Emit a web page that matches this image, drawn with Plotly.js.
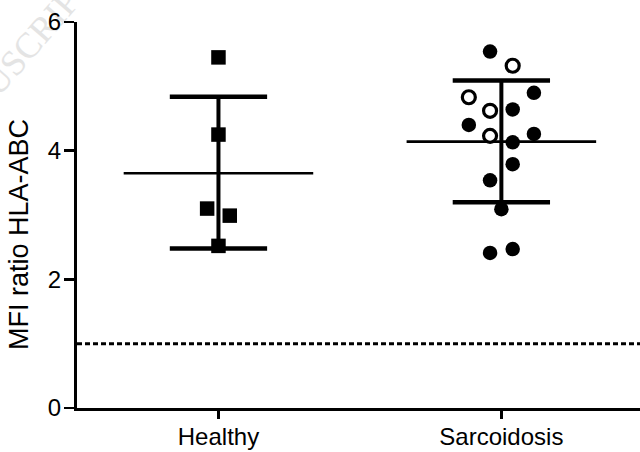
<!DOCTYPE html>
<html>
<head>
<meta charset="utf-8">
<script src="https://cdn.plot.ly/plotly-3.0.1.min.js"></script>
<style>html,body{margin:0;padding:0;background:#fff;}#chart{width:640px;height:452px;}</style>
</head>
<body>
<div id="chart"></div>
<script>
// ---- data ----
const categories = ['Healthy', 'Sarcoidosis'];
const catPos = [0, 1];

const healthyValues = [5.45, 4.25, 3.10, 2.99, 2.52];
const healthyJitter = [0, 0, -0.04, 0.04, 0];

const sarcFilledValues = [5.54, 4.90, 4.64, 4.40, 4.26, 4.13, 3.79, 3.54, 3.09, 2.41, 2.47];
const sarcFilledJitter = [-0.04, 0.115, 0.04, -0.115, 0.115, 0.04, 0.04, -0.04, 0, -0.04, 0.04];

const sarcOpenValues = [5.32, 4.83, 4.62, 4.23];
const sarcOpenJitter = [0.04, -0.115, -0.04, -0.04];

const groupMean = [3.65, 4.14];
const groupUpper = [4.84, 5.09];
const groupLower = [2.48, 3.20];

const referenceLevel = 1;
const yTickVals = [0, 2, 4, 6];
const yTitle = 'MFI ratio HLA-ABC';
const watermarkText = 'MANUSCRIPT';

// ---- build traces ----
const meanHalf = 0.335, capHalf = 0.172;
const traces = [];
catPos.forEach((c, i) => {
  traces.push({
    x: [c, c], y: [groupLower[i], groupUpper[i]],
    mode: 'lines', line: {color: '#000', width: 4}, hoverinfo: 'skip', showlegend: false
  });
  traces.push({
    x: [c - capHalf, c + capHalf, null, c - capHalf, c + capHalf],
    y: [groupUpper[i], groupUpper[i], null, groupLower[i], groupLower[i]],
    mode: 'lines', line: {color: '#000', width: 4.5}, hoverinfo: 'skip', showlegend: false
  });
  traces.push({
    x: [c - meanHalf, c + meanHalf], y: [groupMean[i], groupMean[i]],
    mode: 'lines', line: {color: '#000', width: 2.6}, hoverinfo: 'skip', showlegend: false
  });
});

traces.push({
  x: healthyValues.map((v, i) => catPos[0] + healthyJitter[i]), y: healthyValues,
  mode: 'markers', marker: {symbol: 'square', size: 14.5, color: '#000'}, showlegend: false
});
traces.push({
  x: sarcFilledValues.map((v, i) => catPos[1] + sarcFilledJitter[i]), y: sarcFilledValues,
  mode: 'markers', marker: {symbol: 'circle', size: 14.5, color: '#000'}, showlegend: false
});
traces.push({
  x: sarcOpenValues.map((v, i) => catPos[1] + sarcOpenJitter[i]), y: sarcOpenValues,
  mode: 'markers', marker: {symbol: 'circle', size: 13, color: '#fff', line: {color: '#000', width: 3.2}}, showlegend: false
});

const font = 'Liberation Sans, Arial, sans-serif';
const layout = {
  width: 640, height: 452,
  margin: {l: 77, r: 0, t: 22, b: 44},
  paper_bgcolor: '#fff', plot_bgcolor: '#fff',
  font: {family: font, color: '#000', size: 24},
  xaxis: {
    range: [-0.5, 1.49], tickvals: catPos, ticktext: categories,
    showgrid: false, zeroline: false, showline: true, linecolor: '#000', linewidth: 3,
    ticks: 'outside', ticklen: 8, tickwidth: 2.5, tickcolor: '#000', ticklabelstandoff: -3,
    tickfont: {family: font, size: 24, color: '#000'}, fixedrange: true
  },
  yaxis: {
    range: [0, 6], tickvals: yTickVals, ticktext: yTickVals.map(String),
    showgrid: false, zeroline: false, showline: true, linecolor: '#000', linewidth: 3,
    ticks: 'outside', ticklen: 10, tickwidth: 2.5, tickcolor: '#000', ticklabelstandoff: -2,
    tickfont: {family: font, size: 24, color: '#000'},
    fixedrange: true
  },
  shapes: [{
    type: 'line', xref: 'paper', x0: 0, x1: 1, yref: 'y', y0: referenceLevel, y1: referenceLevel,
    line: {color: '#000', width: 3, dash: '5px,3px'}
  }],
  annotations: [{
    text: watermarkText, xref: 'paper', yref: 'paper', x: -0.118, y: 0.885,
    xanchor: 'center', yanchor: 'middle', textangle: -49, showarrow: false,
    font: {family: 'Liberation Serif, Times New Roman, serif', size: 36, color: '#e4e4e4'}
  }, {
    text: yTitle, xref: 'paper', yref: 'paper', x: -0.103, y: 0.448,
    xanchor: 'center', yanchor: 'middle', textangle: -90, showarrow: false,
    font: {family: font, size: 27, color: '#000'}
  }]
};

Plotly.newPlot('chart', traces, layout, {staticPlot: true, displayModeBar: false}).then(gd => {
  // put the faint watermark behind the axes and tick labels, as in the reference
  const ann = gd.querySelector('.annotation[data-index="0"]');
  const mainSvg = gd.querySelector('.main-svg');
  const cart = mainSvg && mainSvg.querySelector('.cartesianlayer');
  if (ann && cart) mainSvg.insertBefore(ann, cart);
});
</script>
</body>
</html>
